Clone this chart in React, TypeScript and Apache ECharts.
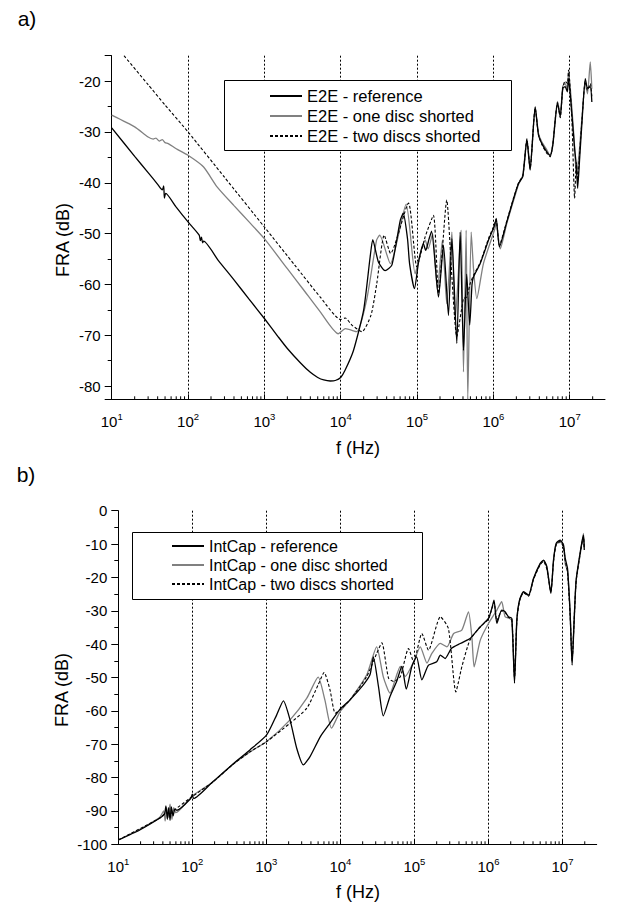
import React, { useEffect, useRef } from 'react';
import * as echarts from 'echarts';

const FONT = '"Liberation Sans", Arial, Helvetica, sans-serif';

// ---------- legend names ----------
const legendA = ['E2E - reference', 'E2E - one disc shorted', 'E2E - two discs shorted'];
const legendB = ['IntCap - reference', 'IntCap - one disc shorted', 'IntCap - two discs shorted'];

// ---------- axis settings ----------
const X_MIN = 10;
const X_MAX = 2.9e7;
const Y_A_MIN = -82.6;
const Y_A_MAX = -15;
const Y_B_MIN = -100;
const Y_B_MAX = 0;
const DECADES = [10, 100, 1000, 1e4, 1e5, 1e6, 1e7];
const MINOR_MULTIPLIERS = [2, 3, 4, 5, 6, 7, 8, 9];

// ---------- a) E2E  [f (Hz), FRA (dB)] ----------
const e2eReference: [number, number][] = [
  [10, -29.2], [20, -34.8], [30, -38.0], [40, -40.3], [46, -41.4], [48, -40.6], [49, -43.0], [51, -42.1],
  [70, -44.8], [100, -47.7], [140, -50.3], [145, -51.4], [150, -50.7], [155, -51.8], [160, -51.5],
  [250, -55.3], [400, -59.1], [630, -62.9],
  [1000, -66.7], [1500, -70.2], [2000, -72.6], [3000, -75.5], [4000, -77.3], [5000, -78.3], [6000, -78.8],
  [7300, -79.0], [8500, -78.9], [10000, -78.3],
  [11400, -76.9], [14700, -73.0], [20000, -65.0], [24300, -54.6], [26300, -51.2], [31200, -55.6],
  [38200, -57.3], [46800, -56.2], [60300, -47.4], [66000, -46.0], [75000, -51.0], [80000, -56.0],
  [92500, -60.8], [105000, -55.5], [121000, -52.0], [130000, -53.3], [144000, -51.0], [155000, -49.5],
  [191000, -62.5], [222000, -52.3], [258000, -66.1], [286000, -51.0], [332000, -71.6], [367000, -49.7],
  [406000, -73.0], [447000, -58.0], [490000, -68.0], [525000, -60.0], [550000, -58.5], [672000, -55.9],
  [863000, -51.3], [1035000, -48.4], [1090000, -47.0], [1200000, -52.6], [1500000, -47.7], [1840000, -43.1],
  [2140000, -40.1], [2430000, -38.8], [2750000, -31.6], [3030000, -37.5], [3530000, -25.1], [3900000, -30.6],
  [4320000, -32.3], [5010000, -33.9], [5550000, -34.6], [6010000, -32.6], [6920000, -24.4], [7520000, -27.0],
  [8130000, -21.4], [8710000, -21.1], [9330000, -22.1], [9660000, -19.5], [10700000, -26.7], [11600000, -33.3],
  [12200000, -36.5], [12700000, -41.1], [13500000, -35.2], [14500000, -28.0], [16000000, -19.5], [17100000, -21.4],
  [18600000, -21.1], [19500000, -24.1],
];

const e2eOneDisc: [number, number][] = [
  [10, -26.7], [20, -29.0], [30, -31.0], [35, -31.4], [38, -31.2], [42, -31.8], [46, -31.5], [50, -32.1],
  [55, -32.3], [70, -33.3], [100, -34.6], [160, -36.9], [240, -40.8], [400, -44.5], [630, -47.7],
  [1000, -51.0], [2000, -56.9], [3200, -60.9], [5400, -65.4], [9300, -69.7],
  [11500, -68.7], [16200, -69.3], [21900, -63.0], [29500, -51.3], [32400, -50.3], [44700, -55.9],
  [72000, -44.2], [94400, -57.9], [110000, -54.0], [128000, -51.3], [140000, -53.0], [160000, -50.0],
  [185000, -61.1], [215000, -51.3], [245000, -63.8], [286000, -49.7], [316000, -67.1], [378000, -49.3],
  [406000, -77.2], [440000, -49.3], [462000, -82.6], [512000, -49.7], [550000, -57.0], [607000, -62.8],
  [741000, -55.9], [1035000, -49.3], [1090000, -48.0], [1230000, -53.0], [1500000, -48.0], [1840000, -43.5],
  [2140000, -40.3], [2430000, -38.5], [2750000, -31.3], [3030000, -37.0], [3530000, -25.0], [3900000, -30.3],
  [4320000, -32.0], [5010000, -33.5], [5550000, -34.8], [6010000, -32.3], [6920000, -24.0], [7520000, -26.5],
  [8130000, -21.0], [8710000, -20.5], [9330000, -21.5], [9660000, -18.0], [10700000, -25.5], [11600000, -33.0],
  [12200000, -38.5], [12700000, -37.0], [13500000, -33.0], [14500000, -27.0], [16000000, -20.5], [17100000, -22.5],
  [18600000, -16.2], [19500000, -21.5],
];

const e2eTwoDiscs: [number, number][] = [
  [14.5, -15.0], [30, -20.7], [50, -24.7], [100, -30.0], [300, -38.9], [1000, -48.7], [2500, -56.2],
  [5400, -62.5], [10000, -66.9], [11500, -66.6], [14000, -68.0],
  [19000, -69.3], [25000, -66.0], [29700, -59.8], [37200, -50.3], [45000, -53.9], [77300, -44.0],
  [99300, -56.5], [128000, -50.6], [164000, -46.4], [191000, -61.8], [245000, -43.4], [286000, -58.5],
  [332000, -70.3], [406000, -62.8], [449000, -62.5], [497000, -59.8], [550000, -58.2], [672000, -55.7],
  [863000, -51.0], [1035000, -48.2], [1090000, -47.2], [1200000, -52.3], [1500000, -47.5], [1840000, -43.0],
  [2140000, -40.0], [2430000, -38.6], [2750000, -31.4], [3030000, -37.3], [3530000, -25.3], [3900000, -30.5],
  [4320000, -32.5], [5010000, -34.2], [5550000, -34.9], [6010000, -32.4], [6920000, -24.2], [7520000, -27.2],
  [8130000, -21.2], [8710000, -20.0], [9330000, -20.5], [9660000, -17.8], [10700000, -28.0], [11600000, -43.1],
  [12200000, -36.0], [12700000, -39.5], [13500000, -34.0], [14500000, -27.5], [16000000, -20.0], [17100000, -21.8],
  [18600000, -20.5], [19500000, -23.0],
];

// ---------- b) IntCap  [f (Hz), FRA (dB)] ----------
const intCapReference: [number, number][] = [
  [10, -98.7], [19.5, -95.7], [36, -92.2], [42, -91.0], [44, -88.5], [46, -92.5], [48, -89.0], [50, -92.8],
  [52, -88.8], [55, -91.5], [58, -89.5], [62, -89.8], [95, -86.3], [100, -85.0], [104, -86.3], [190, -81.2],
  [355, -75.9], [600, -71.7], [1010, -67.2], [1380, -61.2], [1700, -57.0], [2090, -62.7], [2570, -71.2],
  [3160, -76.2], [3890, -73.7], [5370, -67.7], [7240, -63.7], [9910, -59.5], [13500, -56.7], [20400, -52.2],
  [25100, -49.2], [27900, -43.8], [32700, -52.7], [38000, -61.5], [46800, -55.7], [57500, -51.2],
  [67600, -46.7], [77600, -53.5], [92300, -46.7], [107000, -43.8], [126000, -50.7], [155000, -46.3],
  [200000, -45.3], [224000, -43.3], [260000, -44.3], [316000, -41.3], [417000, -39.8], [513000, -38.8],
  [566000, -38.3], [776000, -34.8], [1000000, -32.3], [1110000, -29.3], [1190000, -26.8], [1300000, -33.8],
  [1510000, -29.8], [1680000, -30.3], [1860000, -31.8], [2070000, -32.3], [2250000, -51.7], [2420000, -32.8],
  [2630000, -26.8], [2980000, -24.3], [3480000, -25.3], [4060000, -20.3], [5000000, -15.8], [5550000, -14.8],
  [6150000, -16.8], [6970000, -24.8], [7570000, -14.8], [8220000, -9.8], [9330000, -8.8], [10300000, -10.3],
  [10900000, -14.3], [11700000, -17.3], [12700000, -30.8], [13500000, -46.3], [14400000, -32.8],
  [15300000, -20.8], [17400000, -12.3], [19200000, -7.3], [19700000, -11.8],
];

const intCapOneDisc: [number, number][] = [
  [10, -98.7], [19.5, -95.5], [36, -92.0], [41, -90.0], [43, -93.0], [45, -89.0], [47, -92.0], [50, -88.0],
  [53, -92.5], [56, -89.0], [60, -90.5], [100, -85.5], [190, -81.3], [355, -76.0], [600, -72.3],
  [1010, -69.2], [2090, -62.7], [3520, -56.2], [5010, -49.9], [6170, -56.7], [7590, -65.2], [9910, -60.2],
  [13500, -56.7], [22700, -49.2], [30900, -40.8], [38000, -49.8], [46800, -54.7], [64600, -46.7],
  [75000, -49.7], [97700, -45.3], [120000, -40.8], [148000, -45.7], [172000, -42.8], [224000, -39.8],
  [275000, -40.8], [339000, -36.8], [437000, -35.8], [537000, -30.3], [597000, -37.8], [641000, -46.8],
  [776000, -38.8], [1000000, -33.8], [1300000, -29.8], [1510000, -27.3], [1680000, -31.8], [1930000, -32.3],
  [2070000, -33.0], [2250000, -50.5], [2420000, -32.5], [2630000, -27.0], [2980000, -24.5], [3480000, -25.5],
  [4060000, -20.5], [5000000, -16.0], [5550000, -15.0], [6150000, -17.0], [6970000, -24.5], [7570000, -15.0],
  [8220000, -10.0], [9330000, -9.5], [10300000, -10.0], [10900000, -16.0], [11700000, -18.0],
  [12700000, -31.0], [13500000, -45.5], [14400000, -32.0], [15300000, -21.0], [17400000, -13.0],
  [19200000, -6.8], [19700000, -11.0],
];

const intCapTwoDiscs: [number, number][] = [
  [10, -98.7], [36, -92.2], [45, -90.5], [50, -91.0], [55, -90.0], [100, -85.7], [190, -81.3], [355, -76.0],
  [600, -72.3], [1010, -69.2], [2090, -63.7], [3520, -59.2], [5010, -52.2], [6030, -48.5], [7240, -53.7],
  [8510, -60.7], [9910, -59.7], [13500, -56.7], [22700, -49.7], [30900, -42.8], [36300, -39.6],
  [44700, -50.2], [52500, -51.2], [64600, -49.7], [83200, -41.3], [97700, -45.3], [126000, -36.8],
  [155000, -41.8], [224000, -31.8], [288000, -35.3], [363000, -54.3], [437000, -46.8], [562000, -38.8],
  [776000, -34.8], [1000000, -32.5], [1190000, -27.5], [1300000, -33.0], [1510000, -30.0], [1680000, -30.5],
  [1860000, -32.0], [2070000, -32.5], [2250000, -50.0], [2420000, -33.0], [2630000, -27.0], [2980000, -24.6],
  [3480000, -25.6], [4060000, -20.6], [5000000, -16.2], [5550000, -15.2], [6150000, -17.5], [6970000, -24.2],
  [7570000, -15.2], [8220000, -10.3], [9330000, -9.2], [10300000, -11.0], [10900000, -15.0], [11700000, -18.5],
  [12700000, -31.5], [13500000, -45.0], [14400000, -32.5], [15300000, -21.2], [17400000, -12.8],
  [19200000, -7.8], [19700000, -11.5],
];

const minorFreqs: number[] = [];
DECADES.forEach((d) => MINOR_MULTIPLIERS.forEach((m) => { if (d * m <= X_MAX) minorFreqs.push(d * m); }));

function xLabel(v: number): string {
  const l = Math.log10(v);
  const n = Math.round(l);
  if (Math.abs(l - n) > 1e-6) return '';
  return `{b|10}{s|${n}}`;
}

function makeXAxis(gridIndex: number) {
  return {
    type: 'log',
    logBase: 10,
    gridIndex,
    min: X_MIN,
    max: X_MAX,
    axisLine: { show: true, onZero: false, lineStyle: { color: '#000', width: 1 } },
    axisTick: { show: true, inside: true, length: 5, lineStyle: { color: '#000', width: 1 } },
    minorTick: { show: false },
    splitLine: {
      show: true,
      showMinLine: false,
      showMaxLine: false,
      lineStyle: { color: '#000', width: 1, type: [2, 2] },
    },
    axisLabel: {
      formatter: xLabel,
      margin: 12,
      showMaxLabel: false,
      rich: {
        b: { fontSize: 15, fontFamily: FONT, color: '#000', lineHeight: 20 },
        s: { fontSize: 9.5, fontFamily: FONT, color: '#000', lineHeight: 10, verticalAlign: 'top' },
      },
    },
  };
}

function makeYAxis(gridIndex: number, min: number, max: number, extra: any) {
  return {
    type: 'value',
    gridIndex,
    min,
    max,
    ...extra,
    axisLine: { show: true, onZero: false, lineStyle: { color: '#000', width: 1 } },
    axisTick: { show: true, inside: false, length: 7, lineStyle: { color: '#000', width: 1 } },
    minorTick: { show: true, splitNumber: 2, length: 4, lineStyle: { color: '#000', width: 1 } },
    splitLine: { show: false },
    axisLabel: {
      color: '#000',
      fontSize: 15,
      fontFamily: FONT,
      margin: 11,
      showMinLabel: extra.showEdges ? true : false,
      showMaxLabel: extra.showEdges ? true : false,
    },
  };
}

function lineSeries(name: string, data: [number, number][], idx: number, kind: 'ref' | 'one' | 'two') {
  const lineStyle =
    kind === 'ref'
      ? { color: '#000', width: 1.3, type: 'solid' }
      : kind === 'one'
      ? { color: '#808080', width: 1.3, type: 'solid' }
      : { color: '#000', width: 1.1, type: [3, 2] };
  return {
    type: 'line',
    name,
    xAxisIndex: idx,
    yAxisIndex: idx,
    data,
    showSymbol: false,
    symbol: 'none',
    smooth: 0.2,
    clip: true,
    lineStyle,
    itemStyle: { color: lineStyle.color },
    z: kind === 'ref' ? 4 : kind === 'two' ? 3 : 2,
  };
}

function minorTickSeries(idx: number, yMin: number) {
  return {
    type: 'custom',
    xAxisIndex: idx,
    yAxisIndex: idx,
    silent: true,
    clip: false,
    data: minorFreqs.map((f) => [f, yMin]),
    encode: { x: 0, y: 1 },
    renderItem: (_p: any, api: any) => {
      const pt = api.coord([api.value(0), api.value(1)]);
      return {
        type: 'line',
        shape: { x1: pt[0], y1: pt[1], x2: pt[0], y2: pt[1] - 3 },
        style: { stroke: '#000', lineWidth: 1 },
      };
    },
  };
}

function legendItems(names: string[], left: number, top: number, fontSize: number) {
  return {
    data: names,
    orient: 'vertical',
    left,
    top,
    padding: 0,
    itemWidth: 32,
    itemHeight: 14,
    itemGap: 3,
    z: 20,
    selectedMode: false,
    itemStyle: { opacity: 0, borderWidth: 0 },
    textStyle: { fontSize, fontFamily: FONT, color: '#000' },
  };
}

function txt(text: string, x: number, y: number, fontSize: number, rotation = 0) {
  return {
    type: 'text',
    x,
    y,
    rotation,
    z: 30,
    style: {
      text,
      fontSize,
      fontFamily: FONT,
      fill: '#000',
      align: 'center',
      verticalAlign: 'middle',
      textAlign: 'center',
      textVerticalAlign: 'middle',
    },
  };
}

function box(x: number, y: number, width: number, height: number) {
  return {
    type: 'rect',
    z: 10,
    shape: { x, y, width, height },
    style: { fill: '#fff', stroke: '#000', lineWidth: 1 },
  };
}

const option: any = {
  animation: false,
  backgroundColor: '#fff',
  grid: [
    { left: 111.7, top: 55.7, width: 493.3, height: 343.6, containLabel: false },
    { left: 118.3, top: 510.7, width: 478.4, height: 333.6, containLabel: false },
  ],
  xAxis: [makeXAxis(0), makeXAxis(1)],
  yAxis: [
    makeYAxis(0, Y_A_MIN, Y_A_MAX, { splitNumber: 7 }),
    makeYAxis(1, Y_B_MIN, Y_B_MAX, { interval: 10, showEdges: true }),
  ],
  legend: [
    legendItems(legendA, 269, 87.5, 16.5),
    legendItems(legendB, 171, 538, 16),
  ],
  series: [
    lineSeries(legendA[1], e2eOneDisc, 0, 'one'),
    lineSeries(legendA[2], e2eTwoDiscs, 0, 'two'),
    lineSeries(legendA[0], e2eReference, 0, 'ref'),
    lineSeries(legendB[1], intCapOneDisc, 1, 'one'),
    lineSeries(legendB[2], intCapTwoDiscs, 1, 'two'),
    lineSeries(legendB[0], intCapReference, 1, 'ref'),
    minorTickSeries(0, Y_A_MIN),
    minorTickSeries(1, Y_B_MIN),
  ],
  graphic: [
    box(224.5, 80.5, 287, 70),
    box(132.5, 532.5, 290, 67),
    txt('a)', 27, 18, 21),
    txt('b)', 26, 474, 21),
    txt('FRA (dB)', 63, 240, 18, Math.PI / 2),
    txt('FRA (dB)', 62, 690, 18, Math.PI / 2),
    txt('f (Hz)', 358, 448, 18),
    txt('f (Hz)', 358, 892, 18),
  ],
};

export default function App() {
  const ref = useRef<HTMLDivElement>(null);
  useEffect(() => {
    if (!ref.current) return;
    const chart = echarts.init(ref.current, null, { renderer: 'svg' });
    chart.setOption(option);
    return () => chart.dispose();
  }, []);
  return (
    <div
      ref={ref}
      style={{ position: 'fixed', left: 0, top: 0, width: 624, height: 907, background: '#fff' }}
    />
  );
}
